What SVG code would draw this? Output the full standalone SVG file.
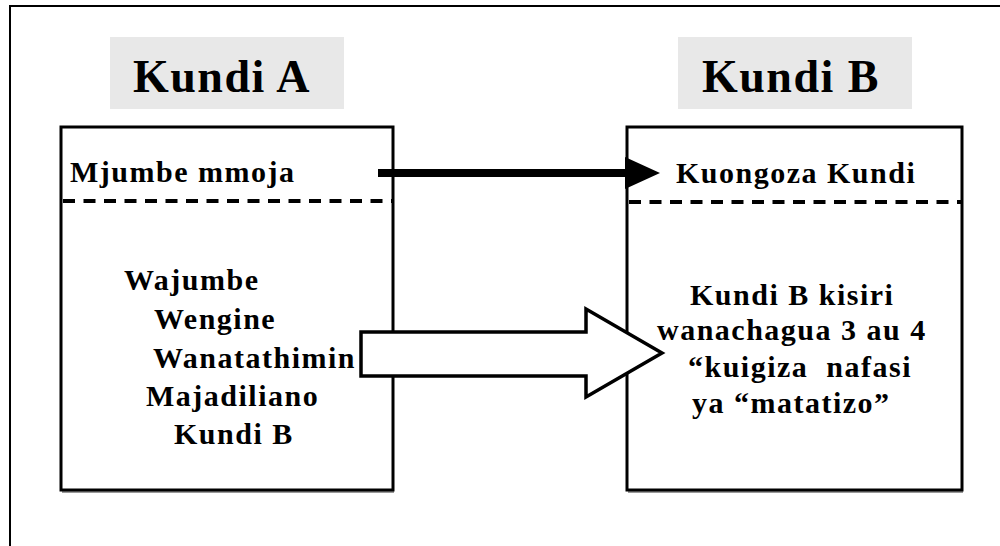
<svg xmlns="http://www.w3.org/2000/svg" width="1000" height="546" viewBox="0 0 1000 546">
<style>
.t{font-family:"Liberation Serif","Times New Roman",serif;font-weight:bold;fill:#000}
.h{font-size:46px;letter-spacing:1.5px}
.s{font-size:30px;letter-spacing:1.5px}
.lbl{fill:#e8e8e8}
.box{fill:#fff;stroke:#000;stroke-width:3}
.shadow{fill:none;stroke:#999;stroke-width:2}
.dash{stroke:#000;stroke-width:4;stroke-dasharray:12 8.5;fill:none}
</style>
<rect width="1000" height="546" fill="#fff"/>
<path d="M10,546 V6 H1000" fill="none" stroke="#000" stroke-width="2"/>
<g id="labelA">
<rect class="lbl" x="110" y="37" width="234" height="72"/>
<text class="t h" x="133" y="92">Kundi A</text>
</g>
<g id="labelB">
<rect class="lbl" x="678" y="37" width="234" height="72"/>
<text class="t h" x="702" y="92">Kundi B</text>
</g>
<g id="boxA">
<path class="shadow" d="M62,492 H394"/>
<rect class="box" x="61" y="127" width="332" height="363"/>
<line class="dash" x1="63" y1="201" x2="392" y2="201"/>
<text class="t s" x="70" y="182">Mjumbe mmoja</text>
<text class="t s" x="124" y="290">Wajumbe</text>
<text class="t s" x="154" y="329">Wengine</text>
<text class="t s" x="153" y="368">Wanatathimin</text>
<text class="t s" x="146" y="406">Majadiliano</text>
<text class="t s" x="174" y="444">Kundi B</text>
</g>
<g id="boxB">
<path class="shadow" d="M628,492 H963"/>
<rect class="box" x="627" y="127" width="335" height="363"/>
<line class="dash" x1="629" y1="202" x2="961" y2="202"/>
<text class="t s" x="676" y="183">Kuongoza Kundi</text>
<text class="t s" x="690" y="305">Kundi B kisiri</text>
<text class="t s" x="657" y="340">wanachagua 3 au 4</text>
<text class="t s" x="688" y="377" xml:space="preserve">“kuigiza  nafasi</text>
<text class="t s" x="692" y="413">ya “matatizo”</text>
</g>
<g id="connectors">
<line x1="378" y1="173" x2="628" y2="173" stroke="#000" stroke-width="8"/>
<polygon points="625,157 660,173 625,189" fill="#000"/>
<path d="M361,332 H586 V309 L662,353 L586,397 V376 H361 Z" fill="#fff" stroke="#000" stroke-width="3.5" stroke-linejoin="miter"/>
</g>
</svg>
